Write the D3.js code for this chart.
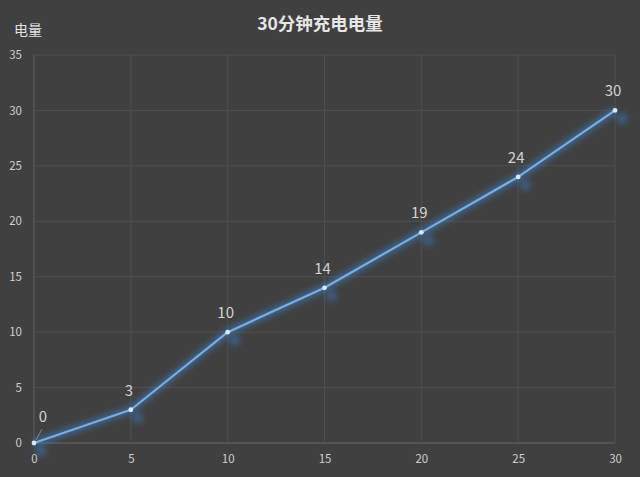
<!DOCTYPE html>
<html>
<head>
<meta charset="utf-8">
<script src="https://cdn.jsdelivr.net/npm/d3@7"></script>
<style>
  body { margin: 0; background: #404040; }
  svg { display: block; }
</style>
</head>
<body>
<svg id="chart" width="640" height="477"></svg>
<script>
const minutes = [0, 5, 10, 15, 20, 25, 30];
const charge = [0, 3, 10, 14, 19, 24, 30];
const xTicks = [0, 5, 10, 15, 20, 25, 30];
const yTicks = [0, 5, 10, 15, 20, 25, 30, 35];
const title = "30分钟充电电量";
const yTitle = "电量";

const margin = { top: 55, right: 25, bottom: 34, left: 34 },
  width = 640, height = 477;

const svg = d3.select("#chart");
const font = "'Microsoft YaHei', 'Noto Sans CJK SC', 'Noto Sans', sans-serif";

svg.append("rect").attr("width", width).attr("height", height).attr("fill", "#404040");

const x = d3.scaleLinear().domain([0, 30]).range([margin.left, width - margin.right]);
const y = d3.scaleLinear().domain([0, 35]).range([height - margin.bottom, margin.top]);

const defs = svg.append("defs");
defs.append("filter").attr("id", "glow")
  .attr("x", "-20%").attr("y", "-20%").attr("width", "140%").attr("height", "140%")
  .append("feGaussianBlur").attr("stdDeviation", 3);
defs.append("filter").attr("id", "blob")
  .attr("x", "-100%").attr("y", "-100%").attr("width", "300%").attr("height", "300%")
  .append("feGaussianBlur").attr("stdDeviation", 3);

// grid
svg.append("g")
  .selectAll("line.h")
  .data(yTicks)
  .join("line")
  .attr("x1", margin.left).attr("x2", width - margin.right)
  .attr("y1", d => y(d)).attr("y2", d => y(d))
  .attr("stroke", "#4f4f4f").attr("stroke-width", 1);

svg.append("g")
  .selectAll("line.v")
  .data(xTicks)
  .join("line")
  .attr("x1", d => x(d)).attr("x2", d => x(d))
  .attr("y1", margin.top).attr("y2", height - margin.bottom)
  .attr("stroke", d => d === 0 ? "#606060" : "#4f4f4f").attr("stroke-width", 1);

// x axis line
svg.append("line")
  .attr("x1", margin.left).attr("x2", width - margin.right)
  .attr("y1", y(0)).attr("y2", y(0))
  .attr("stroke", "#606060");

// axes via d3
const xAxis = svg.append("g")
  .attr("transform", `translate(0,${y(0)})`)
  .call(d3.axisBottom(x).tickValues(xTicks).tickSize(0).tickPadding(12));
const yAxis = svg.append("g")
  .attr("transform", `translate(${margin.left},0)`)
  .call(d3.axisLeft(y).tickValues(yTicks).tickSize(0).tickPadding(12));
[xAxis, yAxis].forEach(g => {
  g.select(".domain").remove();
  g.selectAll("text")
    .attr("fill", "#cfcfcf")
    .attr("font-size", 11.5)
    .attr("font-family", font);
});

const pts = minutes.map((m, i) => ({ m, v: charge[i] }));
const line = d3.line().x(d => x(d.m)).y(d => y(d.v));

// marker shadows
svg.append("g")
  .selectAll("circle")
  .data(pts)
  .join("circle")
  .attr("cx", d => x(d.m) + 7)
  .attr("cy", d => y(d.v) + 8)
  .attr("r", 5.5)
  .attr("fill", "#3f79c0")
  .attr("opacity", 0.55)
  .attr("filter", "url(#blob)");

// glow
svg.append("path")
  .datum(pts)
  .attr("d", line)
  .attr("fill", "none")
  .attr("stroke", "#3f86d8")
  .attr("stroke-width", 7)
  .attr("opacity", 0.55)
  .attr("filter", "url(#glow)");

svg.append("path")
  .datum(pts)
  .attr("d", line)
  .attr("fill", "none")
  .attr("stroke", "#78aee2")
  .attr("stroke-width", 2.2)
  .attr("stroke-linejoin", "round");

svg.append("g")
  .selectAll("circle")
  .data(pts)
  .join("circle")
  .attr("cx", d => x(d.m))
  .attr("cy", d => y(d.v))
  .attr("r", 2.4)
  .attr("fill", "#d6e8fa");

// leader line for first label
svg.append("line")
  .attr("x1", x(0) + 2).attr("y1", y(0) - 3)
  .attr("x2", x(0) + 8).attr("y2", y(0) - 14)
  .attr("stroke", "#9a9a9a").attr("stroke-width", 0.8);

// data labels
svg.append("g")
  .selectAll("text")
  .data(pts)
  .join("text")
  .attr("x", d => d.m === 0 ? x(d.m) + 9 : x(d.m) - 2)
  .attr("y", d => d.m === 0 ? y(d.v) - 21 : y(d.v) - 14)
  .attr("text-anchor", "middle")
  .attr("fill", "#d2d2d2")
  .attr("font-size", 15)
  .attr("font-family", font)
  .text(d => d.v);

// titles
svg.append("text")
  .attr("x", 320).attr("y", 30)
  .attr("text-anchor", "middle")
  .attr("fill", "#e6e6e6")
  .attr("font-size", 17.5)
  .attr("font-weight", "bold")
  .attr("font-family", font)
  .text(title);

svg.append("text")
  .attr("x", 14).attr("y", 35)
  .attr("fill", "#e0e0e0")
  .attr("font-size", 14)
  .attr("font-family", font)
  .text(yTitle);
</script>
</body>
</html>
